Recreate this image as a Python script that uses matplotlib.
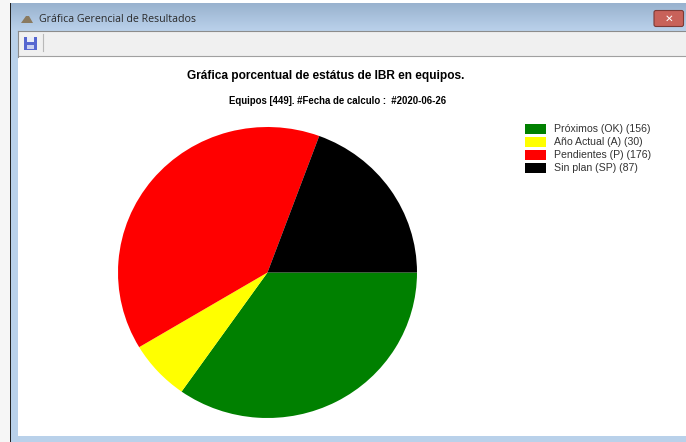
import matplotlib
matplotlib.use("Agg")
import matplotlib.pyplot as plt
import numpy as np
from matplotlib.patches import Rectangle, FancyBboxPatch

plt.rcParams['font.family'] = ['Liberation Sans', 'DejaVu Sans']

W, H = 686, 442

# data
window_title = "Gráfica Gerencial de Resultados"
chart_title = "Gráfica porcentual de estátus de IBR en equipos."
chart_subtitle = "Equipos [449]. #Fecha de calculo :  #2020-06-26"
categories = ["Próximos (OK)", "Año Actual (A)", "Pendientes (P)", "Sin plan (SP)"]
values = [156, 30, 176, 87]
colors = ["#008000", "#ffff00", "#ff0000", "#000000"]

fig = plt.figure(figsize=(W / 100, H / 100), dpi=100, facecolor="white")

# full-figure axes in pixel coordinates, for the window chrome
bg = fig.add_axes([0, 0, 1, 1])
bg.set_xlim(0, W)
bg.set_ylim(H, 0)
bg.axis("off")


def box(x0, y0, x1, y1, color, z=1):
    bg.add_patch(Rectangle((x0, y0), x1 - x0, y1 - y0, facecolor=color, edgecolor="none", zorder=z))


# window frame
box(0, 0, 10, 442, "#f6f6f6")
box(10, 3, 686, 442, "#b9d1ea")
box(10, 3, 11, 442, "#222222", 2)

# title bar gradient
grad = np.linspace(0, 1, 28).reshape(-1, 1)
top = np.array([0.60, 0.70, 0.81])
bottom = np.array([0.73, 0.82, 0.92])
bg.imshow(top + (bottom - top) * grad[:, :, None], extent=(11, 686, 31, 3), aspect="auto", zorder=2)
bg.set_xlim(0, W)
bg.set_ylim(H, 0)
bg.text(39, 19.5, window_title, fontsize=7.7, color="#2a2a2a", va="center", ha="left", family=["Open Sans", "DejaVu Sans"], zorder=5)

# little window icon
bg.add_patch(plt.Polygon([[21, 23], [26, 16], [29, 16], [33, 23]], facecolor="#8a7a60", edgecolor="none", zorder=5))

# close button
bg.add_patch(FancyBboxPatch((654, 10.5), 29.5, 16, boxstyle="round,pad=0,rounding_size=2", facecolor="#c8625a", edgecolor="#7c3a36", lw=0.8, zorder=5))
bg.text(669, 18.5, "✕", fontsize=7.5, color="white", weight="bold", ha="center", va="center", family="DejaVu Sans", zorder=6)

# toolbar
box(18, 31, 686, 56.5, "#f0f0f0", 3)
bg.plot([18, 686], [31, 31], color="#8c8c8c", lw=0.8, zorder=4)
bg.plot([18, 686], [56, 56], color="#a0a0a0", lw=0.8, zorder=4)
bg.plot([18, 18], [31, 57], color="#8c8c8c", lw=0.8, zorder=4)
bg.plot([42.5, 42.5], [34, 51], color="#b8b8b8", lw=0.8, zorder=4)

# save icon
box(24, 37, 37, 50, "#5566d0", 5)
box(27, 37, 34, 42, "#e8ecf8", 6)
box(27, 45, 34, 49, "#c9d0f0", 6)

# client area
box(18, 57, 686, 436, "white", 3)

# titles
bg.text(326, 75.5, chart_title, fontsize=8.6, weight="bold", ha="center", va="center", color="black", zorder=5)
bg.text(337.5, 101, chart_subtitle, fontsize=6.9, weight="bold", ha="center", va="center", color="black", zorder=5)

# legend
for i, (name, val, col) in enumerate(zip(categories, values, colors)):
    y = 124 + i * 13
    box(525, y, 546, y + 9.5, col, 5)
    bg.text(554, y + 4.8, f"{name} ({val})", fontsize=7.55, color="#333333", ha="left", va="center", zorder=5)

# pie, source is squashed a little vertically
ax = fig.add_axes([118 / W, 1 - 418 / H, 299 / W, 291 / H])
ax.patch.set_alpha(0)
ax.pie(values, colors=colors, startangle=0, counterclock=False, radius=1,
       wedgeprops={"linewidth": 0})
ax.set_aspect("auto")
ax.set_xlim(-1, 1)
ax.set_ylim(-1, 1)

fig.savefig("out.png", dpi=100)
